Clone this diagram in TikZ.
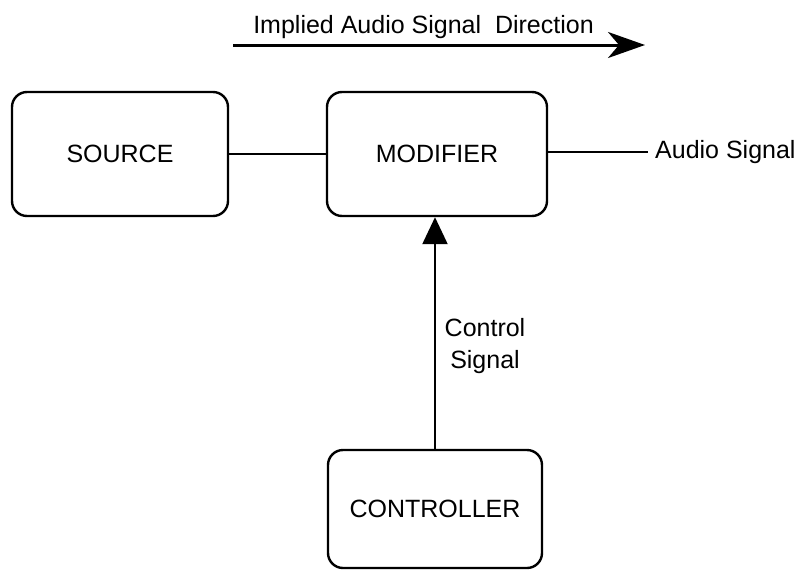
\documentclass[tikz,border=0pt]{standalone}
\usepackage{fontspec}
\setmainfont{Liberation Sans}
\usetikzlibrary{arrows.meta}
\begin{document}
\begin{tikzpicture}[x=1pt,y=-1pt,
  blockbox/.style={draw, line width=2.4pt, rounded corners=15pt, fill=white, font=\fontsize{25}{30}\selectfont},
  wire/.style={line width=2.2pt},
  lbl/.style={font=\fontsize{25}{32}\selectfont, inner sep=0pt}]
\useasboundingbox (0,0) rectangle (798,571);
\node[blockbox, minimum width=216pt, minimum height=124pt] (src) at (120,154) {SOURCE};
\node[blockbox, minimum width=220pt, minimum height=124pt] (mod) at (437,154) {MODIFIER};
\node[blockbox, minimum width=214pt, minimum height=118pt] (ctl) at (435,509) {CONTROLLER};
\draw[wire] (src.east) -- (mod.west);
\coordinate (aend) at (648,152);
\draw[wire] (mod.east |- aend) -- (aend);
\node[lbl, anchor=west] (audio) at (655,152) {Audio Signal};
\draw[wire, -{Triangle[length=27pt,width=25pt]}] (ctl.north) -- (ctl.north |- mod.south);
\node[lbl, align=center] (csig) at (485,346) {Control\\Signal};
\coordinate (dstart) at (233,45);
\coordinate (dend) at (645,45);
\draw[line width=3pt, -{Stealth[length=37pt,width=26pt,inset=11pt]}] (dstart) -- (dend);
\node[lbl, anchor=base] (dir) at (423.5,33) {Implied Audio Signal\ \ Direction};
\end{tikzpicture}
\end{document}
